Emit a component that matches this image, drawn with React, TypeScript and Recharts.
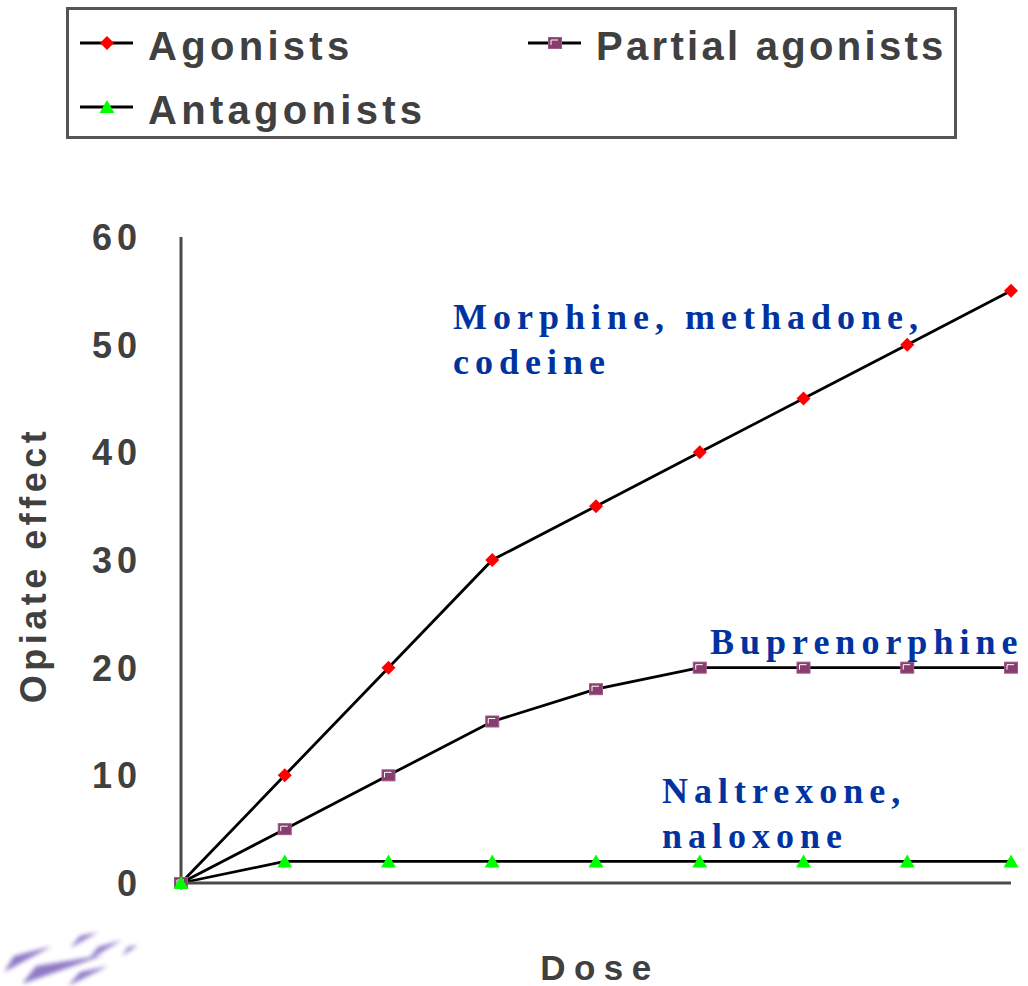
import React from 'react';
import { LineChart, Line, XAxis, YAxis } from 'recharts';

const doses = [0, 1, 2, 3, 4, 5, 6, 7, 8];
const agonists = [0, 10, 20, 30, 35, 40, 45, 50, 55];
const partialAgonists = [0, 5, 10, 15, 18, 20, 20, 20, 20];
const antagonists = [0, 2, 2, 2, 2, 2, 2, 2, 2];
const yTicks = [0, 10, 20, 30, 40, 50, 60];

const seriesNames = ['Agonists', 'Partial agonists', 'Antagonists'];
const annotations = [
  { lines: ['Morphine, methadone,', 'codeine'], x: 453, y: 329 },
  { lines: ['Buprenorphine'], x: 710, y: 654 },
  { lines: ['Naltrexone,', 'naloxone'], x: 662, y: 803 },
];

const data = doses.map((d, i) => ({
  dose: d,
  agonists: agonists[i],
  partial: partialAgonists[i],
  antagonists: antagonists[i],
}));

const TEXT = '#404040';
const AXIS = '#4a4a4a';
const BLUE = '#0033a0';

const Diamond = ({ cx, cy }: any) => (
  <polygon points={`${cx},${cy - 7} ${cx + 7},${cy} ${cx},${cy + 7} ${cx - 7},${cy}`} fill="#ff0000" />
);
const Square = ({ cx, cy }: any) => (
  <g>
    <rect x={cx - 6.5} y={cy - 5.5} width={13} height={11} fill="#883d6e" stroke="#9c5a86" strokeWidth={1} />
    <path d={`M${cx - 4},${cy + 2} L${cx - 4},${cy - 3} L${cx + 3},${cy - 3}`} stroke="#ffffff" strokeWidth={1} fill="none" />
  </g>
);
const Triangle = ({ cx, cy }: any) => (
  <polygon points={`${cx},${cy - 7} ${cx + 7.5},${cy + 6} ${cx - 7.5},${cy + 6}`} fill="#00ff00" />
);

const markers = [Diamond, Square, Triangle];

const YTick = ({ x, y, payload }: any) => (
  <text
    x={x}
    y={y}
    dy="0.36em"
    textAnchor="end"
    fill={TEXT}
    fontFamily="'Liberation Sans', Arial, sans-serif"
    fontWeight="bold"
    fontSize={36}
    letterSpacing={5}
  >
    {payload.value}
  </text>
);

const LegendItem = ({ x, y, idx, ls = 4.3 }: { x: number; y: number; idx: number; ls?: number }) => {
  const M = markers[idx];
  return (
    <g>
      <line x1={x} y1={y} x2={x + 53} y2={y} stroke="#000" strokeWidth={2.8} />
      <M cx={x + 27} cy={y} />
      <text
        x={x + 68}
        y={y + 17}
        fill={TEXT}
        fontFamily="'Liberation Sans', Arial, sans-serif"
        fontWeight="bold"
        fontSize={40}
        letterSpacing={ls}
      >
        {seriesNames[idx]}
      </text>
    </g>
  );
};

export default function App() {
  return (
    <div style={{ position: 'absolute', left: 0, top: 0, width: 1028, height: 986, background: '#fff' }}>
      <LineChart
        width={1028}
        height={986}
        data={data}
        margin={{ top: 237, right: 17, bottom: 43, left: 31 }}
      >
        <XAxis
          dataKey="dose"
          type="number"
          domain={[0, 8]}
          ticks={doses}
          tick={false}
          tickLine={false}
          height={60}
          axisLine={{ stroke: AXIS, strokeWidth: 3 }}
        />
        <YAxis
          type="number"
          domain={[0, 60]}
          ticks={yTicks}
          width={150}
          tickLine={false}
          tickSize={0}
          tickMargin={39}
          tick={<YTick />}
          axisLine={{ stroke: AXIS, strokeWidth: 3 }}
        />
        <Line type="linear" dataKey="agonists" stroke="#000" strokeWidth={2.8} dot={<Diamond />} activeDot={false} isAnimationActive={false} />
        <Line type="linear" dataKey="partial" stroke="#000" strokeWidth={2.8} dot={<Square />} activeDot={false} isAnimationActive={false} />
        <Line type="linear" dataKey="antagonists" stroke="#000" strokeWidth={2.8} dot={<Triangle />} activeDot={false} isAnimationActive={false} />
      </LineChart>
      <svg
        width={1028}
        height={986}
        style={{ position: 'absolute', left: 0, top: 0, pointerEvents: 'none' }}
      >
        <defs>
          <filter id="blur" x="-30%" y="-80%" width="160%" height="260%">
            <feGaussianBlur stdDeviation="2.2" />
          </filter>
        </defs>
        {/* legend */}
        <rect x={67.5} y={8.5} width={888} height={129} fill="none" stroke="#555" strokeWidth={3} />
        <LegendItem x={80} y={43} idx={0} />
        <LegendItem x={528} y={43} idx={1} ls={3.3} />
        <LegendItem x={80} y={107} idx={2} />

        {/* annotations */}
        {annotations.map((a, i) => (
          <text
            key={i}
            fill={BLUE}
            fontFamily="'Liberation Serif', 'Times New Roman', serif"
            fontWeight="bold"
            fontSize={36}
            letterSpacing={6}
          >
            {a.lines.map((l, j) => (
              <tspan key={j} x={a.x} y={a.y + j * 45}>
                {l}
              </tspan>
            ))}
          </text>
        ))}

        {/* axis titles */}
        <text
          x={600}
          y={980}
          textAnchor="middle"
          fill={TEXT}
          fontFamily="'Liberation Sans', Arial, sans-serif"
          fontWeight="bold"
          fontSize={35}
          letterSpacing={8.5}
        >
          Dose
        </text>
        <text
          transform="translate(46,565) rotate(-90)"
          textAnchor="middle"
          fill={TEXT}
          fontFamily="'Liberation Sans', Arial, sans-serif"
          fontWeight="bold"
          fontSize={36}
          letterSpacing={4.5}
        >
          Opiate effect
        </text>

        {/* logo streaks */}
        <g filter="url(#blur)" fill="#7358b8" opacity={0.8}>
          <polygon points="4,972 14,956 52,946" />
          <polygon points="22,984 36,966 104,955" />
          <polygon points="68,986 80,972 108,966" />
          <polygon points="70,948 80,936 98,932" />
          <polygon points="88,960 98,947 122,940" />
          <polygon points="122,956 128,947 138,945" />
        </g>
      </svg>
    </div>
  );
}
